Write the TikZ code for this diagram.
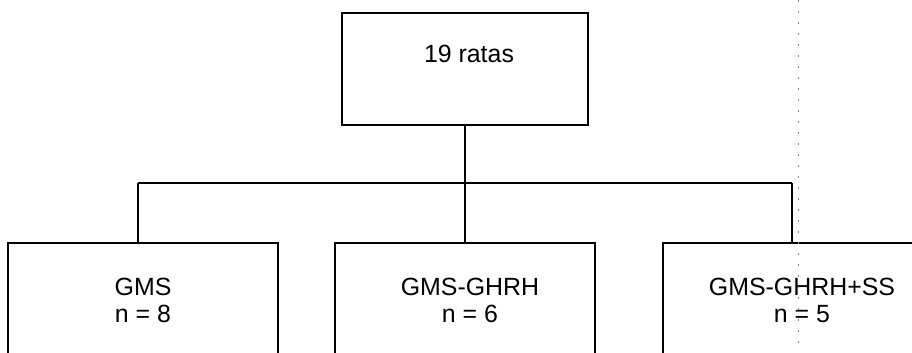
\documentclass[tikz,border=0pt]{standalone}
\usepackage{fontspec}
\setmainfont{Liberation Sans}
\begin{document}
\begin{tikzpicture}[x=1bp,y=-1bp,
  boxline/.style={line width=2.6bp},
  conn/.style={line width=1.5bp},
  boxshape/.style={boxline, draw, rectangle, inner sep=0pt},
  lbl/.style={font=\fontsize{25}{27}\selectfont, align=center, inner sep=0pt}]
\useasboundingbox (0,0) rectangle (912,352);
\clip (0,0) rectangle (912,352);
% top box
\node[boxshape, minimum width=246bp, minimum height=112bp] (top) at (465,69) {};
\node[lbl] (toptxt) at (469,54) {19 ratas};
% bottom boxes
\node[boxshape, minimum width=270bp, minimum height=114bp] (left) at (143,300) {};
\node[boxshape, minimum width=260bp, minimum height=114bp] (mid) at (465,300) {};
\node[boxshape, minimum width=278bp, minimum height=114bp] (right) at (802,300) {};
\node[lbl] (lefttxt) at (143,300) {GMS\\n = 8};
\node[lbl] (midtxt) at (470,300) {GMS-GHRH\\n = 6};
\node[lbl] (righttxt) at (802,300) {GMS-GHRH+SS\\n = 5};
% connectors
\coordinate (hub) at (465,183);
\coordinate (lj) at (138,183);
\coordinate (rj) at (792,183);
\draw[conn] (top.south) -- (hub);
\draw[conn] (lj) -- (rj);
\draw[conn] (lj) -- (lj |- left.north);
\draw[conn] (hub) -- (hub |- mid.north);
\draw[conn] (rj) -- (rj |- right.north);
% faint scan artefact
\coordinate (artA) at (798,0);
\coordinate (artB) at (798,352);
\draw[black!45, line width=0.8bp, dash pattern=on 2bp off 9bp] (artA) -- (artB);
\end{tikzpicture}
\end{document}
